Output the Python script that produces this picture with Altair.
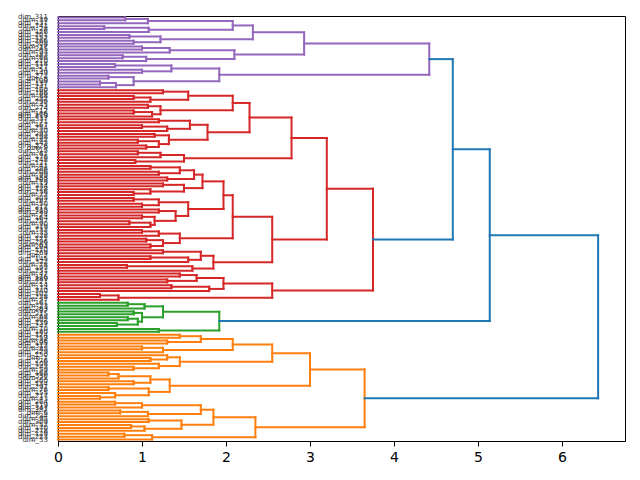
import altair as alt
import pandas as pd

# ---- leaf labels, top to bottom, grouped by cluster ----
purple_labels = ["dim_311", "dim_39", "dim_131", "dim_141", "dim_28", "dim_126", "dim_201", "dim_152",
                 "dim_266", "dim_308", "dim_17", "dim_245", "dim_93", "dim_183", "dim_66", "dim_210",
                 "dim_118", "dim_327", "dim_54", "dim_149", "dim_272", "dim_8", "dim_190", "dim_137",
                 "dim_241"]
red_labels = ["dim_160", "dim_186", "dim_88", "dim_232", "dim_299", "dim_45", "dim_274", "dim_12",
              "dim_106", "dim_219", "dim_337", "dim_71", "dim_167", "dim_254", "dim_30", "dim_293",
              "dim_198", "dim_82", "dim_143", "dim_226", "dim_5", "dim_315", "dim_61", "dim_176",
              "dim_248", "dim_121", "dim_41", "dim_286", "dim_206", "dim_99", "dim_158", "dim_263",
              "dim_19", "dim_334", "dim_128", "dim_236", "dim_73", "dim_305", "dim_187", "dim_50",
              "dim_212", "dim_113", "dim_280", "dim_24", "dim_164", "dim_257", "dim_90", "dim_319",
              "dim_133", "dim_35", "dim_228", "dim_171", "dim_296", "dim_63", "dim_204", "dim_110",
              "dim_269", "dim_2", "dim_145", "dim_322", "dim_78", "dim_193", "dim_251", "dim_47",
              "dim_116", "dim_289", "dim_221", "dim_14", "dim_174", "dim_340", "dim_102", "dim_238",
              "dim_57"]
green_labels = ["dim_161", "dim_23", "dim_283", "dim_97", "dim_215", "dim_68", "dim_302", "dim_139",
                "dim_247", "dim_10", "dim_180"]
orange_labels = ["dim_124", "dim_259", "dim_36", "dim_195", "dim_313", "dim_85", "dim_229", "dim_150",
                 "dim_1", "dim_276", "dim_108", "dim_243", "dim_59", "dim_168", "dim_330", "dim_21",
                 "dim_200", "dim_134", "dim_291", "dim_76", "dim_155", "dim_217", "dim_43", "dim_264",
                 "dim_119", "dim_347", "dim_182", "dim_6", "dim_234", "dim_95", "dim_309", "dim_52",
                 "dim_170", "dim_278", "dim_129", "dim_223", "dim_33"]

# ---- merge trees: [distance, upper child, lower child]; ints are leaf positions in the cluster ----
purple_tree = [4.42,
               [2.93,
                [2.32,
                 [2.08, [1.07, [0.80, 0, 1], 2], [1.08, [0.55, 3, 4], 5]],
                 [1.22, [0.85, 6, 7], [0.90, 8, 9]]],
                [2.10, [1.33, [1.00, 10, 11], 12], [1.05, [0.77, 13, 14], 15]]],
               [1.92, [1.35, [0.68, 16, 17], [1.00, 18, 19]],
                [0.90, [0.60, 20, 21], [0.69, [0.50, 22, 23], 24]]]]

red_top = [2.78,
           [2.28,
            [2.08, [1.55, [1.25, 0, 1], [1.10, [0.90, 2, 3], 4]],
             [1.22, [1.07, 5, 6], [1.12, [0.90, 7, 8], 9]]],
            [1.78, [1.57, [1.20, 10, 11], [1.30, [1.00, 12, 13], 14]],
             [1.32, [1.15, 15, 16], [1.20, [0.95, 17, 18], [1.05, 19, 20]]]]],
           [1.50, [1.22, [0.95, 21, 22], 23], [0.92, 24, 25]]]
red_mid = [2.55,
           [2.08,
            [1.97,
             [1.72, [1.62, [1.45, [1.10, 26, 27], [1.20, 28, 29]], [1.30, 30, 31]],
              [1.50, [1.25, 32, 33], [1.10, 34, [0.90, 35, 36]]]],
             [1.55, [1.20, [0.90, 37, 38], [1.00, 39, 40]],
              [1.40, [1.20, 41, 42], [1.15, [1.00, 43, 44], [1.10, [0.85, 45, 46], 47]]]]],
            [1.45, [1.20, [1.00, 48, 49], 50], [1.25, [1.05, 51, 52], [1.10, 53, 54]]]],
           [1.85, [1.70, [1.25, 55, 56], [1.55, [1.10, 57, 58], 59]], [1.60, [0.82, 60, 61], 62]]]
red_low = [2.55,
           [1.97, [1.65, [1.45, 63, 64], [1.30, 65, 66]], [1.80, [1.35, 67, 68], 69]],
           [0.72, [0.50, 70, 71], 72]]
red_tree = [3.75, [3.20, red_top, red_mid], red_low]

green_tree = [1.92,
              [1.25, [1.03, [0.83, 0, 1], 2],
               [1.00, [0.90, 3, 4], [0.95, [0.83, 5, 6], [0.70, 7, 8]]]],
              [1.20, 9, 10]]

orange_tree = [3.65,
               [3.00,
                [2.55,
                 [2.08, [1.70, [1.45, 0, 1], [1.30, 2, 3]], [1.25, [1.00, 4, 5], 6]],
                 [1.45, [1.30, 7, [1.10, 8, 9]], [1.20, 10, [0.90, 11, 12]]]],
                [1.33, [1.10, [0.72, [0.60, 13, 14], 15], [0.90, 16, 17]],
                 [1.08, [0.60, 18, 19], [0.68, 20, [0.50, 21, 22]]]]],
               [2.35,
                [1.85,
                 [1.70, [1.00, [0.68, 23, 24], 25], [1.07, [0.74, 26, 27], 28]],
                 [1.47, [1.08, 29, 30], [1.03, [0.87, 31, 32], 33]]],
                [1.12, [0.79, 34, 35], 36]]]

# clusters from top to bottom, and the distances joining them (purple+red, +green, +orange)
clusters = [("purple", purple_tree, purple_labels),
            ("red", red_tree, red_labels),
            ("green", green_tree, green_labels),
            ("orange", orange_tree, orange_labels)]
join_heights = [4.70, 5.14, 6.43]

colors = {"purple": "#9467bd", "red": "#d62728", "green": "#2ca02c",
          "orange": "#ff7f0e", "above": "#1f77b4"}

segments = []


def add_link(ha, ya, hb, yb, h, color):
    segments.append({"x0": ha, "x1": h, "y0": ya, "y1": ya, "c": color})
    segments.append({"x0": h, "x1": h, "y0": ya, "y1": yb, "c": color})
    segments.append({"x0": hb, "x1": h, "y0": yb, "y1": yb, "c": color})


def walk(node, offset, color):
    if isinstance(node, int):
        return 0.0, 10 * (offset + node) + 5
    h, upper, lower = node
    ha, ya = walk(upper, offset, color)
    hb, yb = walk(lower, offset, color)
    add_link(ha, ya, hb, yb, h, color)
    return h, (ya + yb) / 2


leaf_rows = []
tops = []
offset = 0
for name, tree, labs in clusters:
    tops.append(walk(tree, offset, name))
    for i, lab in enumerate(labs):
        leaf_rows.append({"pos": 10 * (offset + i) + 5, "name": lab})
    offset += len(labs)

n_leaves = offset
h_cur, y_cur = tops[0]
for (h_next, y_next), h in zip(tops[1:], join_heights):
    add_link(h_cur, y_cur, h_next, y_next, h, "above")
    h_cur, y_cur = h, (y_cur + y_next) / 2

seg_df = pd.DataFrame(segments)
leaf_df = pd.DataFrame(leaf_rows)

y_scale = alt.Scale(domain=[0, 10 * n_leaves], reverse=True, nice=False, zero=False)

links = alt.Chart(seg_df).mark_rule(strokeWidth=2, strokeCap="square").encode(
    x=alt.X("x0:Q", scale=alt.Scale(domain=[0, 6.75], nice=False, zero=False),
            axis=alt.Axis(values=[0, 1, 2, 3, 4, 5, 6], format="d", title=None, grid=False,
                          tickSize=5, labelPadding=4, labelFontSize=14, labelFlush=False)),
    x2="x1:Q",
    y=alt.Y("y0:Q", scale=y_scale, axis=None),
    y2="y1:Q",
    color=alt.Color("c:N", scale=alt.Scale(domain=list(colors.keys()), range=list(colors.values())),
                    legend=None),
)

# leaf names sit left of the plot frame, one per leaf row
leaf_text = alt.Chart(leaf_df).mark_text(
    align="right", baseline="middle", fontSize=7, font="DejaVu Sans",
    fill="#333333", color="#333333", opacity=0.99
).encode(
    x=alt.value(-10),
    y=alt.Y("pos:Q", scale=y_scale, axis=None),
    text="name:N",
)

chart = alt.layer(links, leaf_text).properties(
    width=567, height=425,
    padding={"left": 58, "top": 16, "right": 15, "bottom": 39},
    autosize=alt.AutoSizeParams(type="none"),
).configure_axis(
    domainColor="black", tickColor="black", labelColor="black",
    labelFont="DejaVu Sans", domainWidth=1, tickWidth=1,
).configure_view(stroke="black", strokeWidth=1)

chart.save("out.html", embed_options={"renderer": "svg", "actions": False})
